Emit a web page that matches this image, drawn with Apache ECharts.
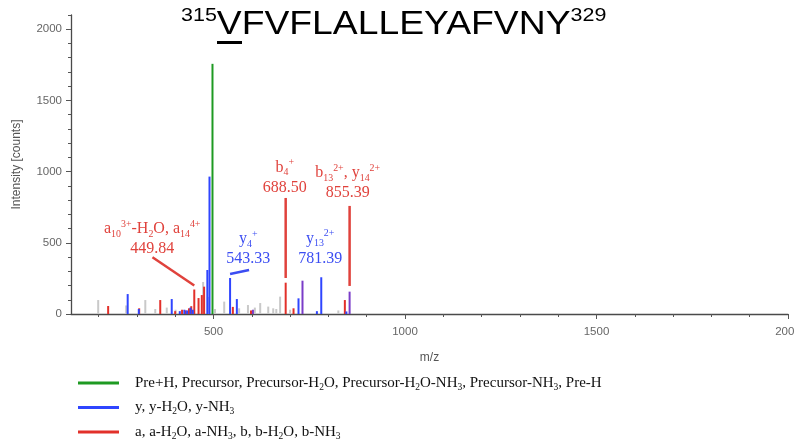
<!DOCTYPE html>
<html>
<head>
<meta charset="utf-8">
<script src="https://cdn.jsdelivr.net/npm/echarts@6/dist/echarts.min.js"></script>
<style>
  html, body { margin: 0; padding: 0; background: #fff; }
  #chart { width: 794px; height: 444px; }
</style>
</head>
<body>
<div id="chart"></div>
<script>
// Peptide sequence (residue numbers as superscripts)
const seqStart = '315';
const seqEnd = '329';
const sequence = 'VFVFLALLEYAFVNY';

// Axis ticks
const xLabelTicks = [500, 1000, 1500, 2000];
const xMinorTicks = [200, 300, 400, 500, 600, 700, 800, 900, 1000, 1100, 1200, 1300, 1400, 1500, 1600, 1700, 1800, 1900, 2000];
const yLabelTicks = [0, 500, 1000, 1500, 2000];
const yMinorTicks = [0, 100, 200, 300, 400, 500, 600, 700, 800, 900, 1000, 1100, 1200, 1300, 1400, 1500, 1600, 1700, 1800, 1900, 2000, 2100];

// Peaks as [m/z, intensity]
const precursorPeaks = [[497.4, 1757]];
const yIonPeaks = [
  [276, 140], [305, 35], [391, 105], [412, 20], [424, 30], [431, 25], [440, 45], [446, 30],
  [484, 309], [489.6, 965], [543.33, 253], [561, 105], [722, 110], [770, 20], [781.39, 258], [847, 18]
];
const abIonPeaks = [
  [225, 56], [306, 40], [361, 98], [400, 20], [418, 30], [427, 25], [436, 40], [442, 55],
  [449.84, 172], [461, 112], [469.5, 133], [475.5, 192], [550.6, 50], [598, 25],
  [688.50, 220], [709, 40], [843, 98]
];
const sharedPeaks = [[603, 30], [732.4, 234], [855.39, 157]];
const unassignedPeaks = [
  [199, 98], [272, 60], [322, 98], [348, 35], [378, 45], [401, 30], [473, 225], [486, 120],
  [504, 35], [528, 87], [567, 40], [590, 63], [608, 45], [622, 77], [643, 52], [656, 40],
  [664, 35], [674, 122], [700, 30], [826, 25]
];

// Annotated fragment ions
const annotatedMz = [449.84, 543.33, 688.50, 781.39, 855.39];
const annotatedIons = [
  'a{sb|10}{sp|3+}-H{sb|2}O, a{sb|14}{sp|4+}',
  'y{sb|4}{sp|+}',
  'b{sb|4}{sp|+}',
  'y{sb|13}{sp|2+}',
  'b{sb|13}{sp|2+}, y{sb|14}{sp|2+}'
];
const annotatedKind = ['ab', 'y', 'ab', 'y', 'ab'];

// Label placement (centre of each two-line label, and leader line ends), in axis units
const labelAnchors = [[340, 527], [591, 457], [686, 956], [778.6, 460], [850.4, 920]];
const leaderLines = [
  [[340.7, 398], [449.84, 200]],
  [[543.33, 281], [593, 309]],
  [[688.50, 815], [688.50, 253]],
  null,
  [[855.39, 759], [855.39, 197]]
];

const COLORS = {
  pre: '#1e9a22',
  y: '#2f45ff',
  ab: '#e2302a',
  shared: '#7a3cc8',
  none: '#c9c9c9',
  yText: '#3b4df2',
  abText: '#e0423c'
};

const serif = '"Liberation Serif", "Times New Roman", serif';
const sans = '"Liberation Sans", Arial, sans-serif';

function stickSeries(name, data, color, z) {
  return {
    type: 'custom',
    name: name,
    data: data,
    z: z,
    itemStyle: { color: color },
    renderItem: function (params, api) {
      const base = api.coord([api.value(0), 0]);
      const top = api.coord([api.value(0), api.value(1)]);
      return {
        type: 'line',
        shape: { x1: base[0], y1: base[1], x2: top[0], y2: top[1] },
        style: { stroke: color, lineWidth: 2 }
      };
    }
  };
}

function labelRich(size) {
  return {
    sb: { fontSize: size * 0.62, lineHeight: 10, verticalAlign: 'bottom', fontFamily: serif },
    sp: { fontSize: size * 0.62, lineHeight: 10, verticalAlign: 'top', fontFamily: serif }
  };
}

const annotationSeries = {
  type: 'custom',
  name: 'labels',
  z: 10,
  silent: true,
  data: annotatedMz.map(function (mz, i) { return [labelAnchors[i][0], labelAnchors[i][1], i]; }),
  renderItem: function (params, api) {
    const i = api.value(2);
    const color = annotatedKind[i] === 'y' ? COLORS.yText : COLORS.abText;
    const p = api.coord([api.value(0), api.value(1)]);
    const children = [{
      type: 'text',
      style: {
        text: annotatedIons[i] + '\n' + annotatedMz[i].toFixed(2),
        x: p[0], y: p[1],
        align: 'center', verticalAlign: 'middle',
        fill: color,
        fontSize: 16, fontFamily: serif, lineHeight: 20,
        rich: labelRich(16)
      }
    }];
    const leader = leaderLines[i];
    if (leader) {
      const a = api.coord(leader[0]);
      const b = api.coord(leader[1]);
      children.push({
        type: 'line',
        shape: { x1: a[0], y1: a[1], x2: b[0], y2: b[1] },
        style: { stroke: color, lineWidth: 2.5 }
      });
    }
    return { type: 'group', children: children };
  }
};

const legendText = {
  pre: 'Pre+H, Precursor, Precursor-H{sb|2}O, Precursor-H{sb|2}O-NH{sb|3}, Precursor-NH{sb|3}, Pre-H',
  y: 'y, y-H{sb|2}O, y-NH{sb|3}',
  ab: 'a, a-H{sb|2}O, a-NH{sb|3}, b, b-H{sb|2}O, b-NH{sb|3}'
};

const plainNumber = function (v) { return String(v); };
const axisLabelStyle = { color: '#666', fontSize: 11.5, fontFamily: sans, formatter: plainNumber };
const axisLineStyle = { lineStyle: { color: '#4a4a4a', width: 1.3 } };

const chart = echarts.init(document.getElementById('chart'), null, { renderer: 'canvas' });
chart.setOption({
  animation: false,
  backgroundColor: '#fff',
  graphic: [{
    // sequence title, set slightly wide
    type: 'text', x: 181, y: 6, scaleX: 1.13, z: 20,
    style: {
      text: '{sp|' + seqStart + '}{m|' + sequence + '}{sp|' + seqEnd + '}',
      verticalAlign: 'top', align: 'left',
      rich: {
        m: { fontSize: 33, lineHeight: 38, fontFamily: sans, fill: '#000', color: '#000' },
        sp: { fontSize: 19, lineHeight: 19, verticalAlign: 'top', fontFamily: sans, fill: '#000', color: '#000' }
      }
    }
  }, {
    // underline marking the first residue
    type: 'rect', left: 217, top: 41, shape: { width: 25, height: 3 }, style: { fill: '#000' }
  }],
  grid: { left: 71, right: 6, top: 15, bottom: 130, containLabel: false, outerBoundsMode: 'none' },
  legend: {
    orient: 'vertical', left: 78, top: 374, padding: 0,
    itemWidth: 41, itemHeight: 3, itemGap: 6.5,
    selectedMode: false,
    data: [
      { name: 'pre', icon: 'rect' },
      { name: 'y', icon: 'rect' },
      { name: 'ab', icon: 'rect' }
    ],
    formatter: function (name) { return legendText[name]; },
    textStyle: {
      fontFamily: serif, fontSize: 15, color: '#111', lineHeight: 18,
      padding: [0, 0, 0, 11],
      rich: {
        sb: { fontSize: 9.5, lineHeight: 10, verticalAlign: 'bottom', fontFamily: serif, color: '#111' }
      }
    }
  },
  xAxis: [{
    type: 'value', min: 128, max: 2000,
    name: 'm/z', nameLocation: 'middle', nameGap: 38,
    nameTextStyle: { color: '#555', fontSize: 12, fontFamily: sans },
    axisLine: axisLineStyle,
    axisTick: { customValues: xMinorTicks, length: 3, lineStyle: { color: '#555' } },
    axisLabel: Object.assign({ customValues: xLabelTicks, margin: 12 }, axisLabelStyle),
    splitLine: { show: false }
  }, {
    type: 'value', min: 128, max: 2000, position: 'bottom',
    axisLine: { show: false },
    axisTick: { customValues: xLabelTicks, length: 5, lineStyle: { color: '#555' } },
    axisLabel: { show: false },
    splitLine: { show: false }
  }],
  yAxis: [{
    type: 'value', min: 0, max: 2100, position: 'left',
    name: 'Intensity [counts]', nameLocation: 'middle', nameGap: 48,
    nameTextStyle: { color: '#555', fontSize: 12, fontFamily: sans },
    axisLine: { show: true, lineStyle: { color: '#4a4a4a', width: 1.3 } },
    axisTick: { show: true, customValues: yMinorTicks, length: 3, lineStyle: { color: '#555' } },
    axisLabel: Object.assign({ customValues: yLabelTicks, margin: 9 }, axisLabelStyle),
    splitLine: { show: false }
  }, {
    type: 'value', min: 0, max: 2100, position: 'left', offset: 0,
    axisLine: { show: false },
    axisTick: { show: true, customValues: yLabelTicks, length: 5, lineStyle: { color: '#555' } },
    axisLabel: { show: false },
    splitLine: { show: false }
  }],
  series: [
    stickSeries('unassigned', unassignedPeaks, COLORS.none, 1),
    stickSeries('ab', abIonPeaks, COLORS.ab, 2),
    stickSeries('y', yIonPeaks, COLORS.y, 3),
    stickSeries('shared', sharedPeaks, COLORS.shared, 4),
    stickSeries('pre', precursorPeaks, COLORS.pre, 5),
    annotationSeries
  ]
});
</script>
</body>
</html>
